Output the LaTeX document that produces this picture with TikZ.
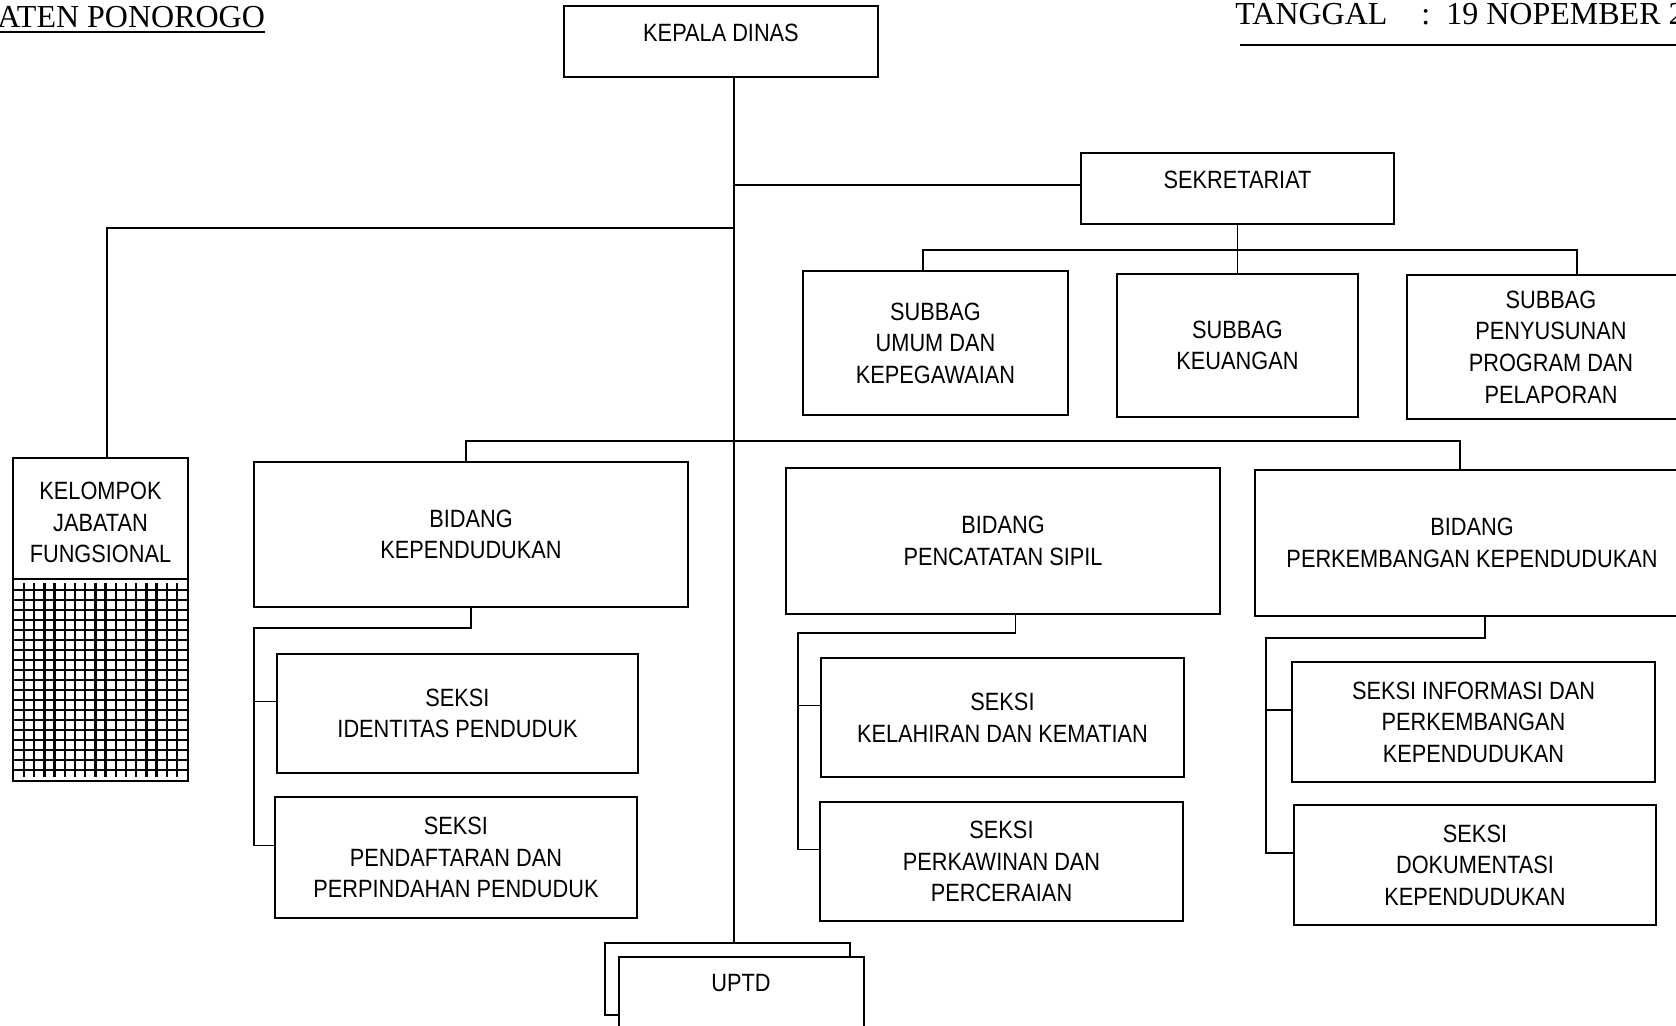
\documentclass[tikz,border=0pt]{standalone}
\usepackage{fontspec}
\setmainfont{Liberation Serif}
\newfontfamily\boxfont[FakeStretch=0.87]{Liberation Sans}
\usetikzlibrary{fit}
\begin{document}
\begin{tikzpicture}[x=0.5pt,y=-0.5pt,
  box/.style={draw, fill=white, line width=0.95pt, inner sep=0pt},
  lbl/.style={inner sep=0pt, align=center, font=\boxfont\fontsize{12.5}{15.8}\selectfont},
  one/.style={lbl, yshift=4.3pt},
  conn/.style={line width=0.95pt},
  gridl/.style={line width=1.15pt},
  hdr/.style={font=\fontsize{16}{18}\selectfont, inner sep=0pt, anchor=base west}]
\useasboundingbox (0,0) rectangle (1676,1025);
\clip (0,0) rectangle (1676,1025);

% header
\node[hdr] (kab) at (-3,27) {ATEN PONOROGO};
\draw[conn] ([yshift=-2.5pt]kab.base west) -- ([yshift=-2.5pt]kab.base east);
\node[hdr] (tgl) at (1235,24) {TANGGAL\hspace*{17pt}:\hspace*{8pt}19 NOPEMBER 2};
\coordinate (tl1) at (1240,45);
\coordinate (tl2) at (1690,45);
\draw[conn] (tl1) -- (tl2);

% boxes
\node[box, fit={(564,6) (878,77)}, label={[one]center:KEPALA DINAS}] (kadis) {};
\node[box, fit={(1081,153) (1394,224)}, label={[one]center:SEKRETARIAT}] (sekr) {};
\node[box, fit={(803,271) (1068,415)}, label={[lbl]center:SUBBAG\\UMUM DAN\\KEPEGAWAIAN}] (sumum) {};
\node[box, fit={(1117,274) (1358,417)}, label={[lbl]center:SUBBAG\\KEUANGAN}] (skeu) {};
\node[box, fit={(1407,275) (1695,419)}, label={[lbl]center:SUBBAG\\PENYUSUNAN\\PROGRAM DAN\\PELAPORAN}] (sprog) {};

\node[box, fit={(13,458) (188,579)}, label={[lbl,yshift=-2pt]center:KELOMPOK\\JABATAN\\FUNGSIONAL}] (kjf) {};
\node[box, fit={(13,579) (188,781)}] (kjfgrid) {};
\foreach \i in {0,...,15} \draw[gridl] ({24+\i*10.2},583) -- ({24+\i*10.2},777);
\foreach \j in {0,...,18} \draw[gridl] (13,{590+\j*10}) -- (188,{590+\j*10});

\node[box, fit={(254,462) (688,607)}, label={[lbl]center:BIDANG\\KEPENDUDUKAN}] (bkep) {};
\node[box, fit={(786,468) (1220,614)}, label={[lbl]center:BIDANG\\PENCATATAN SIPIL}] (bcapil) {};
\node[box, fit={(1255,470) (1689,616)}, label={[lbl]center:BIDANG\\PERKEMBANGAN KEPENDUDUKAN}] (bperk) {};

\node[box, fit={(277,654) (638,773)}, label={[lbl]center:SEKSI\\IDENTITAS PENDUDUK}] (sid) {};
\node[box, fit={(275,797) (637,918)}, label={[lbl]center:SEKSI\\PENDAFTARAN DAN\\PERPINDAHAN PENDUDUK}] (spind) {};
\node[box, fit={(821,658) (1184,777)}, label={[lbl]center:SEKSI\\KELAHIRAN DAN KEMATIAN}] (slahir) {};
\node[box, fit={(820,802) (1183,921)}, label={[lbl]center:SEKSI\\PERKAWINAN DAN\\PERCERAIAN}] (skawin) {};
\node[box, fit={(1292,662) (1655,782)}, label={[lbl]center:SEKSI INFORMASI DAN\\PERKEMBANGAN\\KEPENDUDUKAN}] (sinfo) {};
\node[box, fit={(1294,805) (1656,925)}, label={[lbl]center:SEKSI\\DOKUMENTASI\\KEPENDUDUKAN}] (sdok) {};

\node[box, fit={(605,943) (850,1015)}] (uptdback) {};
\node[box, fit={(619,957) (864,1045)}] (uptd) {};
\node[lbl] (uptdtxt) at (741,983) {UPTD};

% connectors
\coordinate (spine) at (734,0);
\draw[conn] (kadis.south -| spine) -- (uptdback.north -| spine);
\coordinate (sk) at (734,185);
\draw[conn] (sk) -- (sk -| sekr.west);
\coordinate (kj) at (734,228);
\coordinate (kjx) at (107,0);
\draw[conn] (kj) -| (kjx |- kjf.north);

\coordinate (sbar) at (0,250);
\coordinate (c1) at (923,250);
\coordinate (c3) at (1577,250);
\draw[conn] (sekr.south) -- (sekr.south |- sbar);
\draw[conn] (c1 |- sumum.north) -- (c1) -- (c3) -- (c3 |- sprog.north);
\draw[conn] (skeu.north) -- (skeu.north |- sbar);

\coordinate (b1) at (466,441);
\coordinate (b3) at (1460,441);
\draw[conn] (b1 |- bkep.north) -- (b1) -- (b3) -- (b3 |- bperk.north);

\coordinate (sidw) at ([yshift=6pt]sid.west);
\coordinate (spindw) at ([yshift=6pt]spind.west);
\coordinate (slahirw) at ([yshift=6pt]slahir.west);
\coordinate (skawinw) at ([yshift=6pt]skawin.west);
\coordinate (sinfow) at ([yshift=6pt]sinfo.west);
\coordinate (sdokw) at ([yshift=6pt]sdok.west);
\coordinate (bcapils) at ([xshift=6.25pt]bcapil.south);
\coordinate (bperks) at ([xshift=6.5pt]bperk.south);

\coordinate (k1) at (254,628);
\draw[conn] (bkep.south) |- (k1) |- (spindw);
\draw[conn] (k1 |- sidw) -- (sidw);

\coordinate (p1) at (798,633);
\draw[conn] (bcapils) |- (p1) |- (skawinw);
\draw[conn] (p1 |- slahirw) -- (slahirw);

\coordinate (q1) at (1266,638);
\draw[conn] (bperks) |- (q1) |- (sdokw);
\draw[conn] (q1 |- sinfow) -- (sinfow);
\end{tikzpicture}
\end{document}
